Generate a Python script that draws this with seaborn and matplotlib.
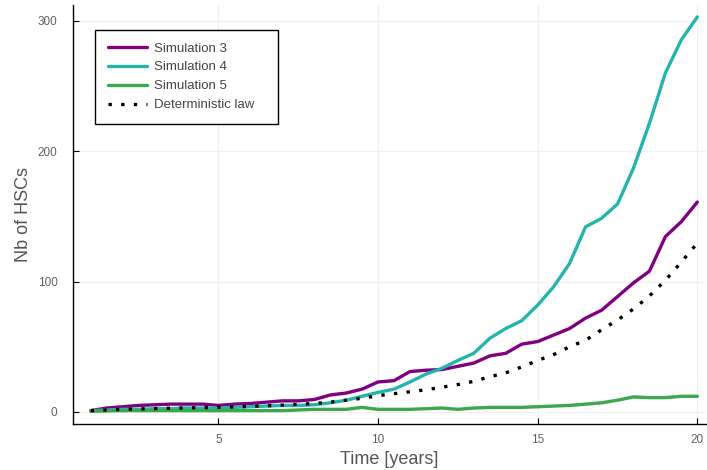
import numpy as np
import pandas as pd
import matplotlib
matplotlib.use("Agg")
import matplotlib.pyplot as plt
import seaborn as sns

time = [1, 1.5, 2, 2.5, 3, 3.5, 4, 4.5, 5, 5.5, 6, 6.5, 7, 7.5, 8, 8.5, 9, 9.5, 10,
        10.5, 11, 11.5, 12, 12.5, 13, 13.5, 14, 14.5, 15, 15.5, 16, 16.5, 17, 17.5,
        18, 18.5, 19, 19.5, 20]
sim3 = [1, 3, 4, 5, 5.5, 6, 6, 6, 5, 6, 6.5, 7.5, 8.5, 8.5, 9.5, 13, 14.5, 17.5, 23,
        24, 31, 32, 32.5, 35, 37.5, 43, 45, 52, 54, 59, 64, 72, 78, 88.5,
        99, 108, 134.5, 146, 161]
sim4 = [1, 1.5, 2, 2, 2.5, 2.5, 3, 3, 3, 3.5, 4, 4.5, 5, 5, 5.5, 7, 9, 12, 15,
        17.5, 23, 29, 33.5, 39.5, 45, 56.5, 64, 70, 82, 96, 114, 142, 148.5, 159.5,
        187, 221.5, 260, 285.5, 303]
sim5 = [0.5, 0.8, 1, 1, 1, 1, 1, 1, 1, 1, 1, 1, 1, 1.5, 2, 2, 2, 3.5, 2,
        2, 2, 2.5, 3, 2, 3, 3.5, 3.5, 3.5, 4, 4.5, 5, 6, 7, 9,
        11.5, 11, 11, 12, 12]
determ = [1, 1.5, 2, 2.3, 2.6, 2.9, 3.1, 3.3, 3.6, 3.9, 4.3, 4.7, 5.2, 5.8, 6.5, 7.5, 9, 10.5, 12.5,
          14, 15.5, 17, 19, 21, 23.5, 27, 30, 34.5, 39.5, 44, 50, 55, 63, 70.5,
          79, 89, 101, 115, 129.5]
labels = ["Simulation 3", "Simulation 4", "Simulation 5", "Deterministic law"]
colors = ["#800080", "#22b4ad", "#3ea64c", "#000000"]

frames = []
for lab, vals in zip(labels, [sim3, sim4, sim5, determ]):
    frames.append(pd.DataFrame({"Time": time, "Nb": vals, "series": lab}))
df = pd.concat(frames, ignore_index=True)

sns.set_theme(style="white")
plt.rcParams['font.family'] = ['Liberation Sans', 'DejaVu Sans']

fig = plt.figure(figsize=(7.07, 4.70), dpi=100)
ax = fig.add_axes([0.103, 0.098, 0.896, 0.891])

sns.lineplot(data=df, x="Time", y="Nb", hue="series", style="series",
             palette=dict(zip(labels, colors)),
             dashes={labels[0]: "", labels[1]: "", labels[2]: "", labels[3]: (1.0, 2.8)},
             linewidth=2.4, ax=ax, legend=True)

ax.set_xlim(0.44, 20.28)
ax.set_ylim(-9.2, 312)
ax.set_xticks([5, 10, 15, 20])
ax.set_yticks([0, 100, 200, 300])
ax.grid(True, color="#f0f0f0", linewidth=0.8)
for s in ["top", "right"]:
    ax.spines[s].set_visible(False)
for s in ["left", "bottom"]:
    ax.spines[s].set_color("black")
    ax.spines[s].set_linewidth(1.0)
ax.tick_params(direction="in", length=4, width=0.8, colors="black",
               labelcolor="#606060", labelsize=8.5, left=True, bottom=True, pad=7)
ax.tick_params(axis="y", pad=11)
ax.set_xlabel("Time [years]", fontsize=13, color="#555555", labelpad=4)
ax.set_ylabel("Nb of HSCs", fontsize=13, color="#555555", labelpad=4)

handles, lbls = ax.get_legend_handles_labels()
leg = ax.legend(handles=handles, labels=lbls, loc="upper left",
                bbox_to_anchor=(0.035, 0.941 - 0.22, 0.289, 0.22), mode="expand",
                fontsize=9.5, frameon=True,
                fancybox=False, edgecolor="black", framealpha=1,
                handlelength=3.0, labelspacing=0.5, borderpad=0.95, handletextpad=0.55,
                borderaxespad=0)
leg.get_frame().set_linewidth(1.0)
for t in leg.get_texts():
    t.set_color("#444444")

fig.savefig("out.png", dpi=100)
